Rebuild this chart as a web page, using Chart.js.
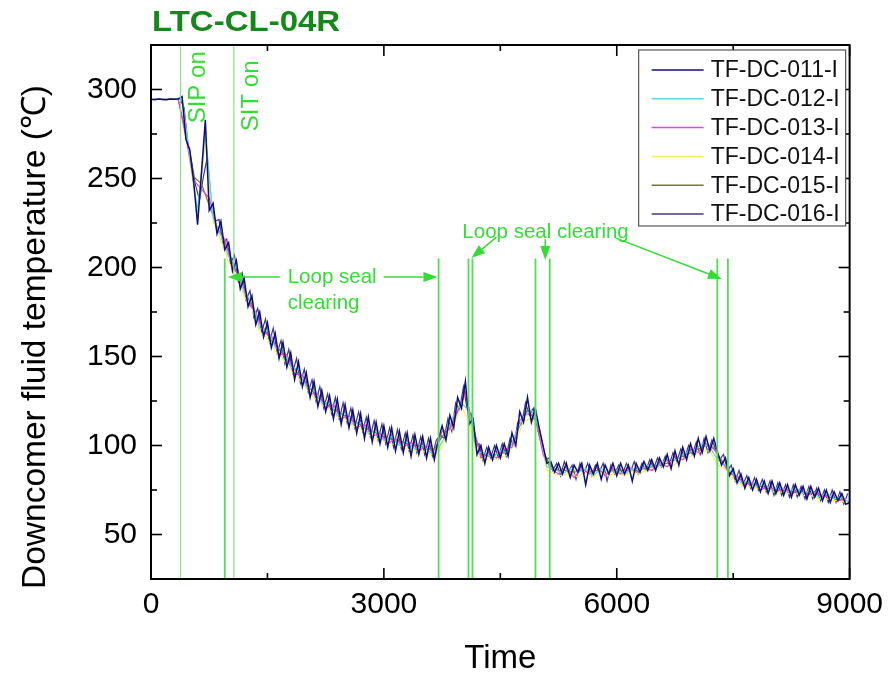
<!DOCTYPE html>
<html>
<head>
<meta charset="utf-8">
<script src="https://cdn.jsdelivr.net/npm/chart.js@4.4.1/dist/chart.umd.min.js"></script>
<style>
  html, body { margin: 0; padding: 0; background: #fff; }
</style>
</head>
<body>
<canvas id="chart" width="891" height="679"></canvas>
<script>
// time axis (s)
const TIME_050 = Array.from({ length: 181 }, (_, i) => i * 50);        // 0 .. 9000
const TIME_025 = Array.from({ length: 180 }, (_, i) => 25 + i * 50);   // 25 .. 8975
const TIME_EVEN = Array.from({ length: 91 }, (_, i) => i * 100);       // 0 .. 9000
const TIME_ODD = Array.from({ length: 90 }, (_, i) => 50 + i * 100);   // 50 .. 8950

const X_TICKS = [0, 3000, 6000, 9000];
const Y_TICKS = [50, 100, 150, 200, 250, 300];

// downcomer fluid temperature
const TF_DC_011 = [
  294.5, 294.3, 294.6, 294.4, 294.2, 294.7, 294.5, 294.6, 296.0, 272, 266, 248, 224, 253, 283, 232, 236, 219, 226, 210,
  214, 198, 204, 188, 194, 178, 184, 168, 175, 161, 169, 155, 163, 149, 158, 144, 152, 137, 147, 133,
  141, 127, 136, 122, 131, 119, 128, 115, 126, 112, 123, 110, 120, 107, 118, 104, 116, 102, 113, 101,
  111, 99, 110, 97, 108, 96, 107, 94, 106, 95, 105, 93, 104, 92, 103, 111, 103, 117, 110, 127,
  121, 136, 112, 115, 95, 100, 90, 99, 92, 100, 93, 101, 94, 107, 100, 119, 113, 127, 113, 121,
  110, 100, 90, 91, 85, 90, 84, 90, 82, 89, 85, 90, 78, 89, 84, 90, 81, 89, 84, 90,
  83, 90, 84, 89, 80, 90, 85, 91, 86, 92, 86, 93, 88, 95, 87, 97, 89, 99, 92, 101,
  94, 104, 96, 105, 97, 104, 96, 89, 93, 83, 87, 79, 84, 76, 82, 75, 81, 74, 80, 73,
  80, 73, 79, 72, 78, 71, 78, 72, 77, 70, 77, 71, 76, 69, 75, 68, 74, 69, 73, 67,
  68
];
const TF_DC_012 = [
  294.3, 294.6, 294.4, 294.5, 295.5, 262, 232, 276, 228, 218,
  206, 201, 186, 181, 166, 165, 155, 154, 144, 143,
  133, 131, 124, 124, 117, 118, 112, 113, 107, 108,
  103, 105, 100, 102, 98, 100, 96, 98, 106, 117,
  124, 119, 96, 96, 93, 97, 96, 107, 116, 120,
  110, 88, 87, 84, 87, 85, 87, 83, 87, 85,
  86, 84, 87, 86, 89, 87, 91, 91, 93, 96,
  97, 101, 99, 92, 89, 84, 79, 80, 77, 78,
  75, 77, 74, 76, 73, 75, 71, 73, 70, 71, 68
];
const TF_DC_013 = [
  294.6, 294.4, 294.5, 294.7, 273, 249, 244, 239, 221, 216,
  200, 195, 180, 175, 163, 162, 151, 151, 140, 140,
  129, 129, 121, 123, 115, 117, 110, 112, 105, 107,
  101, 104, 99, 102, 97, 100, 95, 108, 109, 119,
  129, 111, 93, 96, 93, 98, 99, 114, 118, 117,
  95, 87, 84, 88, 82, 87, 84, 88, 83, 87,
  84, 88, 85, 88, 86, 90, 88, 94, 92, 98,
  96, 101, 98, 92, 84, 83, 78, 79, 75, 77,
  74, 76, 73, 75, 72, 74, 71, 72, 69, 70
];
const TF_DC_014 = [
  294.4, 294.5, 294.6, 294.3, 295, 259, 230, 270, 226, 215,
  203, 196, 184, 177, 164, 160, 153, 149, 142, 138,
  132, 127, 123, 120, 116, 115, 111, 109, 106, 104,
  103, 101, 100, 98, 97, 97, 95, 96, 104, 112,
  122, 113, 94, 92, 92, 93, 95, 102, 114, 115,
  108, 86, 84, 83, 85, 82, 86, 82, 85, 83,
  85, 83, 86, 84, 87, 86, 89, 88, 91, 93,
  95, 97, 97, 89, 87, 81, 78, 77, 76, 75,
  74, 74, 73, 73, 72, 72, 70, 70, 69, 69, 66
];
const TF_DC_015 = [
  294.5, 294.5, 294.4, 294.6, 275, 251, 247, 235, 223, 214,
  203, 192, 183, 172, 166, 159, 154, 148, 143, 137,
  132, 127, 124, 120, 118, 115, 113, 110, 108, 106,
  104, 103, 102, 100, 100, 98, 98, 105, 110, 120,
  130, 109, 95, 94, 95, 96, 101, 111, 120, 114,
  97, 88, 86, 86, 85, 86, 85, 86, 84, 86,
  86, 86, 86, 87, 88, 89, 90, 92, 94, 96,
  98, 100, 99, 91, 85, 82, 79, 78, 77, 76,
  75, 75, 74, 74, 73, 73, 72, 71, 70, 69
];
const TF_DC_016 = [
  294.6, 294.4, 294.5, 294.3, 294.6, 294.5, 294.4, 294.7, 290, 270, 259, 246, 238, 251, 262, 238, 226, 227, 214, 216,
  202, 207, 192, 197, 182, 187, 172, 177, 164, 171, 158, 166, 152, 159, 146, 154, 141, 149, 135, 143,
  130, 137, 125, 133, 121, 129, 118, 127, 115, 124, 113, 121, 110, 119, 108, 116, 105, 114, 103, 112,
  101, 110, 99, 109, 98, 107, 97, 106, 96, 105, 95, 104, 94, 103, 106, 104, 115, 108, 124, 120,
  133, 120, 118, 100, 101, 92, 99, 93, 100, 93, 101, 94, 104, 100, 113, 112, 124, 117, 121, 110,
  103, 92, 93, 86, 90, 83, 91, 85, 89, 81, 90, 84, 90, 83, 89, 85, 90, 80, 89, 84,
  89, 84, 90, 85, 91, 84, 90, 86, 92, 87, 93, 88, 94, 89, 96, 91, 98, 93, 100, 95,
  102, 95, 104, 96, 103, 98, 92, 95, 86, 89, 80, 86, 78, 83, 76, 82, 75, 81, 74, 80,
  72, 79, 72, 78, 71, 78, 71, 77, 70, 77, 70, 76, 69, 75, 68, 75, 68, 74, 67, 73
];

// event markers (s)
const INJECTION_TIMES = [380, 1067];            // SIP on, SIT on
const LOOP_SEAL_TIMES = [950, 3705, 4090, 4141, 4953, 5137, 7295, 7432];
const LOOP_SEAL_TOP = 205;

const series = [
  { label: 'TF-DC-011-I', time: TIME_050, temp: TF_DC_011, color: '#10107a', width: 1.5 },
  { label: 'TF-DC-012-I', time: TIME_EVEN, temp: TF_DC_012, color: '#5fd6dc', width: 1.2 },
  { label: 'TF-DC-013-I', time: TIME_ODD, temp: TF_DC_013, color: '#ee3fd8', width: 1.2 },
  { label: 'TF-DC-014-I', time: TIME_EVEN, temp: TF_DC_014, color: '#f4f05a', width: 1.2 },
  { label: 'TF-DC-015-I', time: TIME_ODD, temp: TF_DC_015, color: '#7c7a1c', width: 1.2 },
  { label: 'TF-DC-016-I', time: TIME_025, temp: TF_DC_016, color: '#3c3c88', width: 1.2 }
];

const eventSets = [
  ...INJECTION_TIMES.map(t => ({ data: [{ x: t, y: 25 }, { x: t, y: 325 }], borderColor: '#8ade8a', borderWidth: 1.2 })),
  ...LOOP_SEAL_TIMES.map(t => ({ data: [{ x: t, y: 25 }, { x: t, y: LOOP_SEAL_TOP }], borderColor: '#55dd55', borderWidth: 1.8 }))
];

const lineSets = series.map(s => ({
  label: s.label,
  data: s.time.map((t, i) => ({ x: t, y: s.temp[i] })),
  borderColor: s.color,
  borderWidth: s.width
}));

const GREEN = '#33dd33';
const NOTES = [
  { text: 'Loop seal', x: 1761, y: 194.6 },
  { text: 'clearing', x: 1761, y: 180 },
  { text: 'Loop seal clearing', x: 4011, y: 219.9 }
];
const ARROWS = [
  [1659, 194.6, 990, 194.6],
  [2996, 194.6, 3690, 194.6],
  [4449, 217.1, 4127, 205.3],
  [5079, 216.0, 5079, 204.2],
  [5991, 216.5, 7354, 193.5]
];
const Y_TITLE = 'Downcomer fluid temperature (℃)';

const decor = {
  id: 'decor',
  afterDatasetsDraw(chart) {
    const { ctx, chartArea: a, scales: { x, y } } = chart;
    ctx.save();

    // frame and inward ticks on all four sides
    ctx.strokeStyle = '#000';
    ctx.lineWidth = 2;
    ctx.strokeRect(a.left, a.top, a.right - a.left, a.bottom - a.top);
    ctx.lineWidth = 1.6;
    const seg = (x1, y1, x2, y2) => { ctx.beginPath(); ctx.moveTo(x1, y1); ctx.lineTo(x2, y2); ctx.stroke(); };
    const xt = x.ticks.map(t => t.value);
    xt.forEach((v, i) => {
      const px = x.getPixelForValue(v);
      seg(px, a.bottom, px, a.bottom - 11);
      seg(px, a.top, px, a.top + 11);
      if (i < xt.length - 1) {
        const pm = x.getPixelForValue((v + xt[i + 1]) / 2);
        seg(pm, a.bottom, pm, a.bottom - 6);
        seg(pm, a.top, pm, a.top + 6);
      }
    });
    const yt = y.ticks.map(t => t.value);
    yt.forEach((v, i) => {
      const py = y.getPixelForValue(v);
      seg(a.left, py, a.left + 11, py);
      seg(a.right, py, a.right - 11, py);
      if (i < yt.length - 1) {
        const pm = y.getPixelForValue((v + yt[i + 1]) / 2);
        seg(a.left, pm, a.left + 6, pm);
        seg(a.right, pm, a.right - 6, pm);
      }
    });

    // event labels
    ctx.fillStyle = GREEN;
    ctx.font = '24px "Liberation Sans", Arial, sans-serif';
    ctx.textBaseline = 'middle';
    ctx.textAlign = 'left';
    [['SIP on', 604, 281], ['SIT on', 1299, 276.6]].forEach(([txt, tx, ty]) => {
      ctx.save();
      ctx.translate(x.getPixelForValue(tx), y.getPixelForValue(ty));
      ctx.rotate(-Math.PI / 2);
      ctx.fillText(txt, 0, 0);
      ctx.restore();
    });
    ctx.font = '20.5px "Liberation Sans", Arial, sans-serif';
    NOTES.forEach(n => ctx.fillText(n.text, x.getPixelForValue(n.x), y.getPixelForValue(n.y)));

    ctx.strokeStyle = GREEN;
    ctx.lineWidth = 1.5;
    ARROWS.forEach(([x1, y1, x2, y2]) => {
      const p1 = [x.getPixelForValue(x1), y.getPixelForValue(y1)];
      const p2 = [x.getPixelForValue(x2), y.getPixelForValue(y2)];
      const ang = Math.atan2(p2[1] - p1[1], p2[0] - p1[0]);
      const hl = 14, hw = 5;
      const bx = p2[0] - hl * Math.cos(ang), by = p2[1] - hl * Math.sin(ang);
      seg(p1[0], p1[1], bx, by);
      ctx.beginPath();
      ctx.moveTo(p2[0], p2[1]);
      ctx.lineTo(bx + hw * Math.sin(ang), by - hw * Math.cos(ang));
      ctx.lineTo(bx - hw * Math.sin(ang), by + hw * Math.cos(ang));
      ctx.closePath();
      ctx.fill();
    });

    // legend box
    const lw = 207, lh = 176;
    const lx = a.right - lw - 4, ly = a.top + 5;
    ctx.fillStyle = '#fff';
    ctx.fillRect(lx, ly, lw, lh);
    ctx.strokeStyle = '#555';
    ctx.lineWidth = 1.2;
    ctx.strokeRect(lx, ly, lw, lh);
    ctx.font = '23px "Liberation Sans", Arial, sans-serif';
    ctx.textBaseline = 'middle';
    series.forEach((s, i) => {
      const ry = ly + 20 + i * 28.8;
      ctx.strokeStyle = s.color;
      ctx.lineWidth = 1.5;
      seg(lx + 13, ry, lx + 65, ry);
      ctx.fillStyle = '#111';
      ctx.fillText(s.label, lx + 72, ry + 1);
    });

    // title
    ctx.fillStyle = '#14881a';
    ctx.font = 'bold 30px "Liberation Sans", Arial, sans-serif';
    ctx.textBaseline = 'middle';
    ctx.save();
    ctx.translate(a.left + 1, 23);
    ctx.scale(1.1, 1);
    ctx.fillText('LTC-CL-04R', 0, 0);
    ctx.restore();

    // y axis title, sitting a little below the axis centre as in the original
    ctx.fillStyle = '#000';
    ctx.font = '33.5px "Liberation Sans", Arial, sans-serif';
    ctx.textAlign = 'center';
    ctx.save();
    ctx.translate(36, (a.top + a.bottom) / 2 + 25);
    ctx.rotate(-Math.PI / 2);
    ctx.fillText(Y_TITLE, 0, 0);
    ctx.restore();

    ctx.restore();
  }
};

const tickFont = { family: '"Liberation Sans", Arial, sans-serif', size: 30 };

new Chart(document.getElementById('chart'), {
  type: 'line',
  data: { datasets: [...eventSets, ...lineSets] },
  options: {
    responsive: false,
    animation: false,
    layout: { padding: { top: 45, right: 40, left: 0, bottom: 0 } },
    elements: { point: { radius: 0 }, line: { tension: 0 } },
    plugins: { legend: { display: false }, tooltip: { enabled: false } },
    scales: {
      x: {
        type: 'linear',
        min: 0,
        max: 9000,
        afterBuildTicks: s => { s.ticks = X_TICKS.map(value => ({ value })); },
        afterFit: s => { s.height = 100; },
        grid: { display: false, drawTicks: false },
        border: { display: false },
        ticks: { font: tickFont, color: '#000', padding: 8, maxRotation: 0, callback: v => String(v) },
        title: { display: true, text: 'Time', font: { ...tickFont, size: 33 }, color: '#000', padding: { top: 0, bottom: 0 } }
      },
      y: {
        type: 'linear',
        min: 25,
        max: 325,
        afterBuildTicks: s => { s.ticks = Y_TICKS.map(value => ({ value })); },
        afterFit: s => { s.width = 151; },
        grid: { display: false, drawTicks: false },
        border: { display: false },
        ticks: { font: tickFont, color: '#000', padding: 14, callback: v => String(v) },
        title: { display: false }
      }
    }
  },
  plugins: [decor]
});
</script>
</body>
</html>
